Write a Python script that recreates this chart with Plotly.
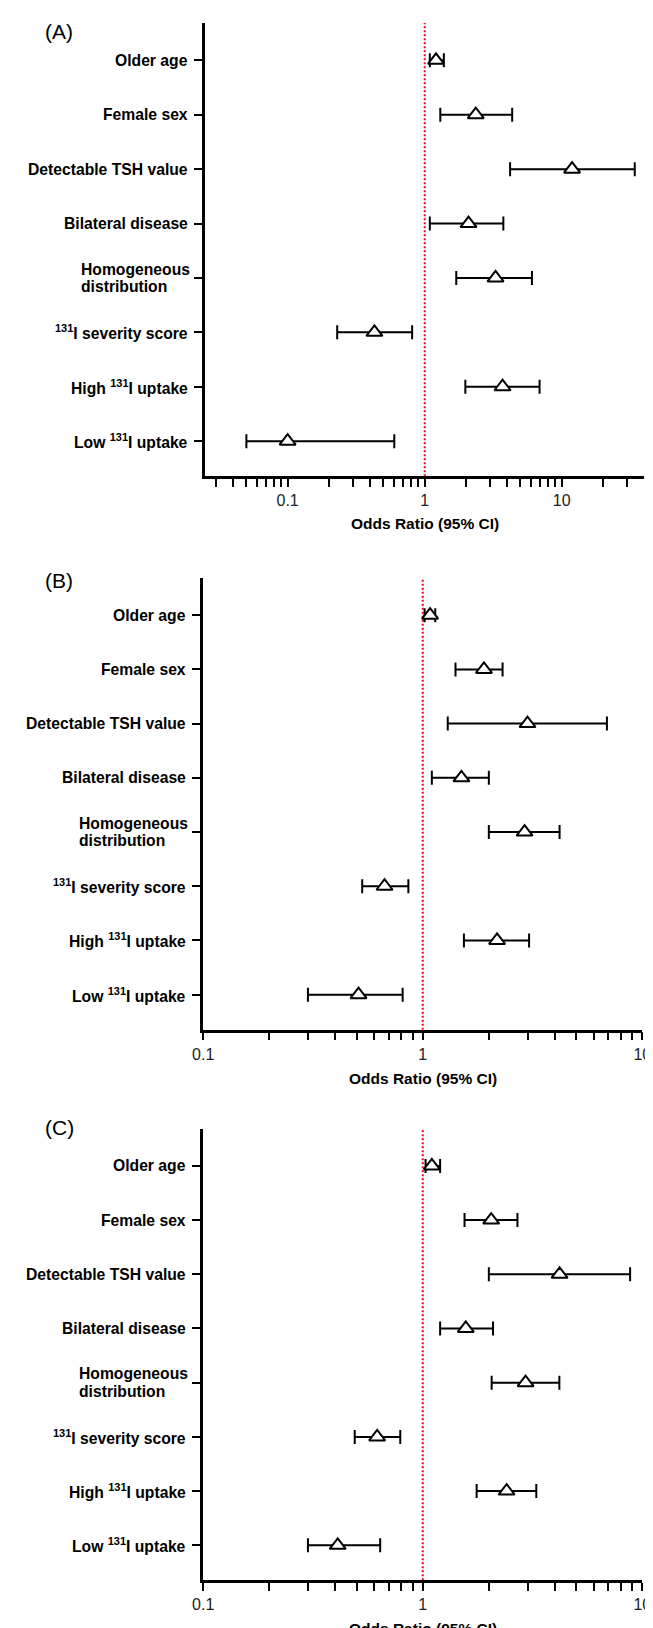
import math
import plotly.graph_objects as go

# ---------------- data ----------------
categories = ["Older age", "Female sex", "Detectable TSH value", "Bilateral disease",
              "Homogeneous<br>distribution", "<sup>131</sup>I severity score",
              "High <sup>131</sup>I uptake", "Low <sup>131</sup>I uptake"]

a_or = [1.21, 2.36, 11.9, 2.09, 3.29, 0.43, 3.70, 0.10]
a_lo = [1.09, 1.30, 4.2, 1.09, 1.70, 0.23, 1.98, 0.05]
a_hi = [1.38, 4.35, 34.1, 3.75, 6.06, 0.81, 6.89, 0.60]

b_or = [1.08, 1.90, 3.0, 1.50, 2.91, 0.67, 2.18, 0.51]
b_lo = [1.02, 1.41, 1.30, 1.10, 2.00, 0.53, 1.54, 0.30]
b_hi = [1.14, 2.31, 6.9, 2.00, 4.20, 0.86, 3.05, 0.81]

c_or = [1.10, 2.05, 4.2, 1.57, 2.94, 0.62, 2.41, 0.41]
c_lo = [1.03, 1.55, 2.0, 1.20, 2.06, 0.49, 1.76, 0.30]
c_hi = [1.20, 2.70, 8.8, 2.09, 4.19, 0.79, 3.29, 0.64]

panel_labels = ["(A)", "(B)", "(C)"]
x_title = "Odds Ratio (95% CI)"
reference_or = 1

a_major_ticks = [0.1, 1, 10]
a_minor_ticks = [0.03, 0.04, 0.05, 0.06, 0.07, 0.08, 0.09,
                 0.2, 0.3, 0.4, 0.5, 0.6, 0.7, 0.8, 0.9,
                 2, 3, 4, 5, 6, 7, 8, 9, 20, 30]
bc_major_ticks = [0.1, 1, 10]
bc_minor_ticks = [0.2, 0.3, 0.4, 0.5, 0.6, 0.7, 0.8, 0.9,
                  2, 3, 4, 5, 6, 7, 8, 9]
major_tick_text = ["0.1", "1", "10"]
a_xrange = [0.025, 40]
bc_xrange = [0.1, 10]

# ---------------- layout (pixels) ----------------
W, H = 653, 1628
FONT = "Liberation Sans, Arial, Helvetica, sans-serif"
panels = [
    dict(data=(a_or, a_lo, a_hi), x0=192, x1=645, y0=15, y1=468.3,
         xr=a_xrange, maj=a_major_ticks, mn=a_minor_ticks, lab=(41, 23.5), title_y=515),
    dict(data=(b_or, b_lo, b_hi), x0=190, x1=643, y0=570, y1=1021.7,
         xr=bc_xrange, maj=bc_major_ticks, mn=bc_minor_ticks, lab=(41, 573), title_y=1070),
    dict(data=(c_or, c_lo, c_hi), x0=190, x1=643, y0=1120.7, y1=1572.3,
         xr=bc_xrange, maj=bc_major_ticks, mn=bc_minor_ticks, lab=(41.5, 1119), title_y=1620.7),
]
yrange = [7.646, -0.686]

fig = go.Figure()
annotations = []
ypos = list(range(len(categories)))

for k, p in enumerate(panels):
    sfx = "" if k == 0 else str(k + 1)
    xa, ya = "x" + sfx, "y" + sfx
    orv, lo, hi = p["data"]
    # reference line at OR = 1
    fig.add_trace(go.Scatter(
        x=[reference_or, reference_or], y=[yrange[0], yrange[1] - 0.05],
        mode="lines", line=dict(color="#ff0000", width=2, dash="2px,2px"),
        xaxis=xa, yaxis=ya, hoverinfo="skip", cliponaxis=False))
    fig.add_trace(go.Scatter(
        x=orv, y=ypos, mode="markers",
        marker=dict(symbol="triangle-up", size=14, color="white",
                    line=dict(color="black", width=2)),
        error_x=dict(type="data", symmetric=False,
                     array=[h - o for h, o in zip(hi, orv)],
                     arrayminus=[o - l for o, l in zip(orv, lo)],
                     color="black", thickness=2, width=7),
        xaxis=xa, yaxis=ya, cliponaxis=False))

    xdom = [p["x0"] / W, p["x1"] / W]
    ydom = [1 - p["y1"] / H, 1 - p["y0"] / H]
    fig.layout["xaxis" + sfx] = dict(
        domain=xdom, anchor=ya, type="log",
        range=[math.log10(p["xr"][0]), math.log10(p["xr"][1])],
        tickmode="array", tickvals=p["maj"], ticktext=major_tick_text,
        ticks="outside", ticklen=8, tickwidth=2, tickcolor="black",
        minor=dict(tickmode="array", tickvals=p["mn"], ticks="outside",
                   ticklen=8, tickwidth=2, tickcolor="black", showgrid=False),
        showline=True, linewidth=2.5, linecolor="black",
        showgrid=False, zeroline=False,
        tickfont=dict(family=FONT, size=16, color="#222"))
    fig.layout["yaxis" + sfx] = dict(
        domain=ydom, anchor=xa, range=yrange,
        tickmode="array", tickvals=ypos, showticklabels=False,
        ticks="outside", ticklen=8, tickwidth=2, tickcolor="black",
        showline=True, linewidth=2.5, linecolor="black",
        showgrid=False, zeroline=False)

    # category labels
    for i, cat in enumerate(categories):
        if "<br>" in cat:
            parts = cat.split("<br>")
            for j, part in enumerate(parts):
                annotations.append(dict(
                    text="<b>" + part + "</b>", xref="paper", yref=ya,
                    x=(p["x0"] - 130.3) / W, y=i + (j - 0.5) * 0.325,
                    xanchor="left", yanchor="middle", showarrow=False,
                    font=dict(family=FONT, size=15.7, color="black")))
        else:
            annotations.append(dict(
                text="<b>" + cat + "</b>", xref="paper", yref=ya,
                x=(p["x0"] - 15.5) / W, y=i,
                xanchor="right", yanchor="middle", showarrow=False,
                font=dict(family=FONT, size=15.7, color="black")))

    # panel label
    annotations.append(dict(
        text=panel_labels[k], xref="paper", yref="paper",
        x=p["lab"][0] / W, y=1 - p["lab"][1] / H,
        xanchor="center", yanchor="middle", showarrow=False,
        font=dict(family=FONT, size=21, color="black")))
    # x-axis title
    annotations.append(dict(
        text="<b>" + x_title + "</b>", xref="paper", yref="paper",
        x=(p["x0"] + p["x1"]) / 2 / W, y=1 - p["title_y"] / H,
        xanchor="center", yanchor="middle", showarrow=False,
        font=dict(family=FONT, size=15.5, color="black")))

fig.update_layout(
    width=W, height=H, margin=dict(l=0, r=0, t=0, b=0),
    paper_bgcolor="white", plot_bgcolor="white",
    showlegend=False, annotations=annotations,
    font=dict(family=FONT))

fig.write_html("out.html")
